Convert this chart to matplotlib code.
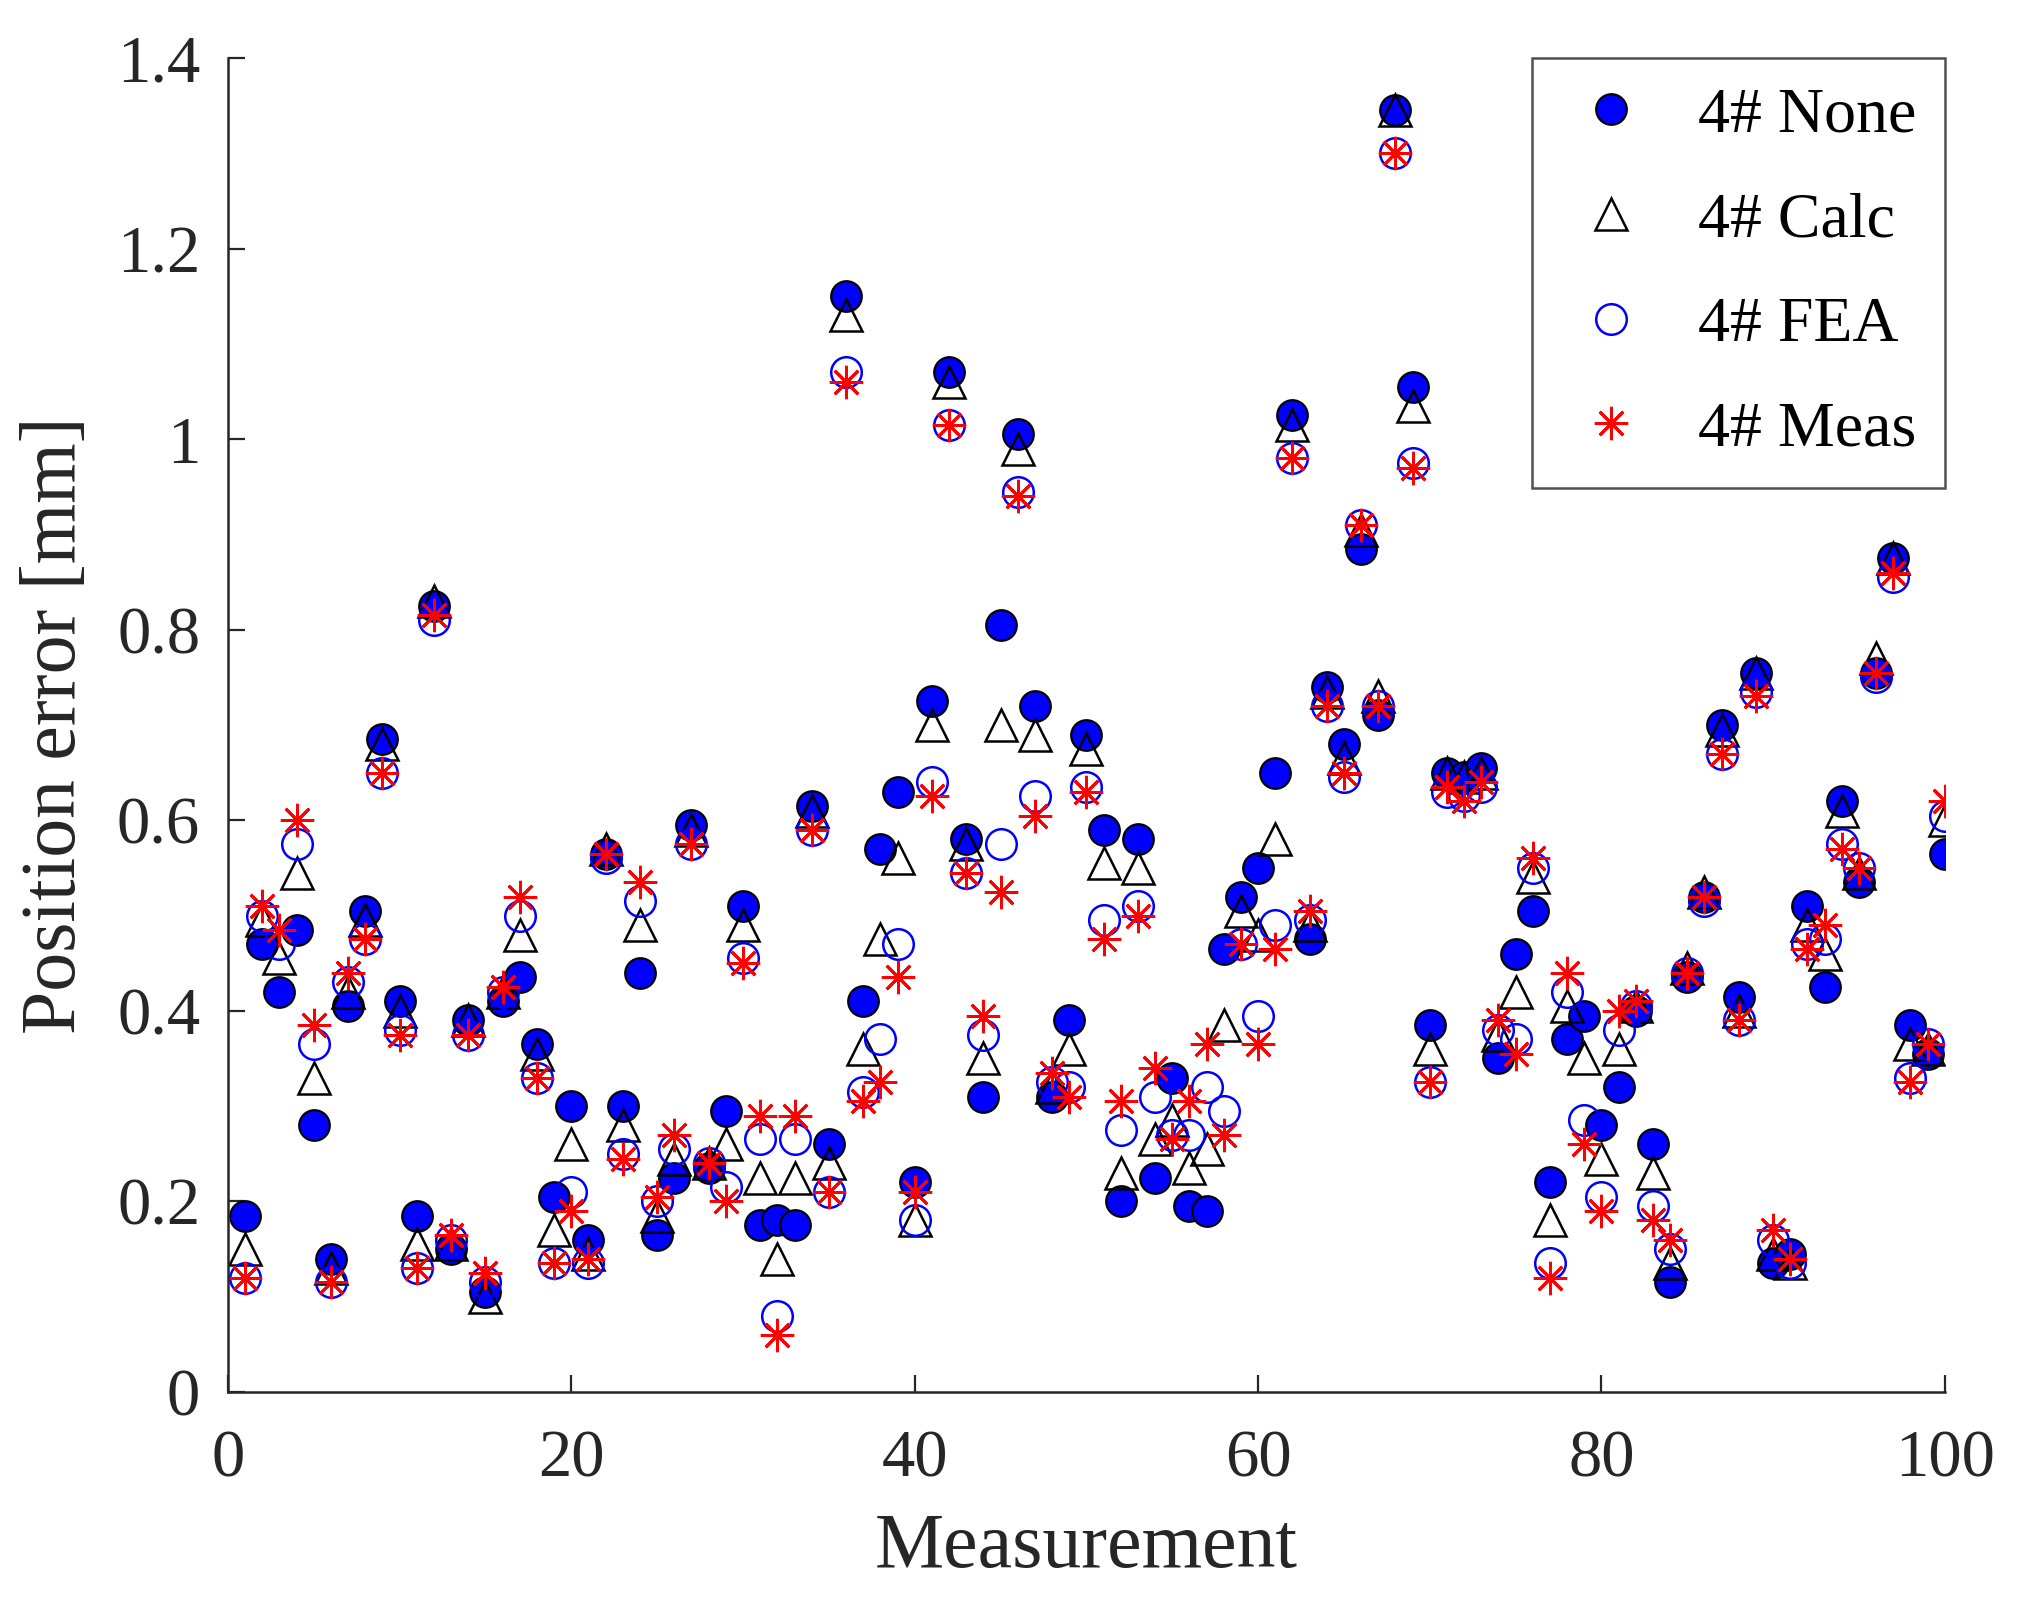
import numpy as np
import matplotlib
matplotlib.use("Agg")
import matplotlib.pyplot as plt
from matplotlib.ticker import FuncFormatter

plt.rcParams['font.family'] = ['Liberation Serif', 'DejaVu Serif']

measurement = np.arange(1, 101)

err_none = [0.185, 0.47, 0.42, 0.485, 0.28, 0.14, 0.405, 0.505, 0.685, 0.41,
            0.185, 0.825, 0.15, 0.39, 0.105, 0.41, 0.435, 0.365, 0.205, 0.30,
            0.16, 0.565, 0.30, 0.44, 0.165, 0.225, 0.595, 0.235, 0.295, 0.51,
            0.175, 0.18, 0.175, 0.615, 0.26, 1.15, 0.41, 0.57, 0.63, 0.22,
            0.725, 1.07, 0.58, 0.31, 0.805, 1.005, 0.72, 0.31, 0.39, 0.69,
            0.59, 0.20, 0.58, 0.225, 0.33, 0.195, 0.19, 0.465, 0.52, 0.55,
            0.65, 1.025, 0.475, 0.74, 0.68, 0.885, 0.71, 1.345, 1.055, 0.385,
            0.65, 0.645, 0.655, 0.35, 0.46, 0.505, 0.22, 0.37, 0.395, 0.28,
            0.32, 0.40, 0.26, 0.115, 0.435, 0.52, 0.70, 0.415, 0.755, 0.135,
            0.145, 0.51, 0.425, 0.62, 0.535, 0.755, 0.875, 0.385, 0.355, 0.565]

err_calc = [0.15, 0.495, 0.455, 0.545, 0.33, 0.13, 0.42, 0.495, 0.68, 0.40,
            0.155, 0.83, 0.155, 0.39, 0.10, 0.42, 0.48, 0.355, 0.17, 0.26,
            0.145, 0.57, 0.28, 0.49, 0.185, 0.245, 0.59, 0.24, 0.26, 0.49,
            0.225, 0.14, 0.225, 0.61, 0.24, 1.13, 0.36, 0.475, 0.56, 0.18,
            0.70, 1.06, 0.575, 0.35, 0.70, 0.99, 0.69, 0.32, 0.36, 0.675,
            0.555, 0.23, 0.55, 0.265, 0.285, 0.235, 0.255, 0.385, 0.505, 0.48,
            0.58, 1.015, 0.49, 0.735, 0.665, 0.905, 0.73, 1.345, 1.035, 0.36,
            0.65, 0.645, 0.65, 0.375, 0.42, 0.54, 0.18, 0.405, 0.35, 0.245,
            0.36, 0.405, 0.23, 0.135, 0.445, 0.525, 0.695, 0.40, 0.755, 0.145,
            0.135, 0.49, 0.46, 0.61, 0.545, 0.77, 0.875, 0.365, 0.36, 0.60]

err_fea = [0.12, 0.50, 0.47, 0.575, 0.365, 0.115, 0.43, 0.475, 0.65, 0.38,
           0.13, 0.81, 0.16, 0.375, 0.115, 0.42, 0.50, 0.33, 0.135, 0.21,
           0.135, 0.56, 0.25, 0.515, 0.20, 0.255, 0.575, 0.24, 0.215, 0.455,
           0.265, 0.08, 0.265, 0.59, 0.21, 1.07, 0.315, 0.37, 0.47, 0.18,
           0.64, 1.015, 0.545, 0.375, 0.575, 0.945, 0.625, 0.325, 0.32, 0.635,
           0.495, 0.275, 0.51, 0.31, 0.27, 0.27, 0.32, 0.295, 0.47, 0.395,
           0.49, 0.98, 0.495, 0.72, 0.645, 0.91, 0.72, 1.30, 0.975, 0.325,
           0.63, 0.625, 0.635, 0.38, 0.37, 0.55, 0.135, 0.42, 0.285, 0.205,
           0.38, 0.405, 0.195, 0.15, 0.44, 0.515, 0.67, 0.39, 0.735, 0.16,
           0.135, 0.47, 0.475, 0.575, 0.55, 0.75, 0.855, 0.33, 0.365, 0.605]

err_meas = [0.12, 0.51, 0.485, 0.60, 0.385, 0.115, 0.44, 0.475, 0.65, 0.375,
            0.13, 0.815, 0.165, 0.375, 0.125, 0.425, 0.52, 0.33, 0.135, 0.19,
            0.14, 0.565, 0.245, 0.535, 0.205, 0.27, 0.575, 0.24, 0.20, 0.45,
            0.29, 0.06, 0.29, 0.59, 0.21, 1.06, 0.305, 0.325, 0.435, 0.21,
            0.625, 1.015, 0.545, 0.395, 0.525, 0.94, 0.605, 0.335, 0.31, 0.63,
            0.475, 0.305, 0.50, 0.34, 0.265, 0.305, 0.365, 0.27, 0.47, 0.365,
            0.465, 0.98, 0.505, 0.72, 0.65, 0.91, 0.72, 1.30, 0.97, 0.325,
            0.635, 0.62, 0.64, 0.39, 0.355, 0.56, 0.12, 0.44, 0.26, 0.19,
            0.40, 0.41, 0.18, 0.16, 0.44, 0.52, 0.67, 0.39, 0.73, 0.17,
            0.14, 0.465, 0.49, 0.57, 0.55, 0.755, 0.86, 0.325, 0.365, 0.62]

fig = plt.figure(figsize=(10.15, 8.035), dpi=200)
ax = fig.add_axes([0.1123, 0.1338, 0.8457, 0.8301])

ax.plot(measurement, err_none, linestyle='none', marker='o', markersize=11,
        markerfacecolor='#0000ff', markeredgecolor='black', markeredgewidth=0.8,
        label='4# None')
ax.plot(measurement, err_calc, linestyle='none', marker='^', markersize=11.5,
        markerfacecolor='none', markeredgecolor='black', markeredgewidth=0.9,
        label='4# Calc')
ax.plot(measurement, err_fea, linestyle='none', marker='o', markersize=11,
        markerfacecolor='none', markeredgecolor='#0000ff', markeredgewidth=0.9,
        label='4# FEA')
ax.plot(measurement, err_meas, linestyle='none', marker=(8, 2, 0), markersize=12,
        markeredgecolor='#ff0000', markeredgewidth=1.0, color='#ff0000',
        label='4# Meas')

ax.set_xlim(0, 100)
ax.set_ylim(0, 1.4)
ax.set_xticks([0, 20, 40, 60, 80, 100])
ax.set_yticks(np.arange(0, 1.41, 0.2))
ax.yaxis.set_major_formatter(FuncFormatter(lambda v, p: f"{v:.1f}".rstrip('0').rstrip('.') if v else "0"))

ax.spines['top'].set_visible(False)
ax.spines['right'].set_visible(False)
for s in ['left', 'bottom']:
    ax.spines[s].set_linewidth(0.9)
    ax.spines[s].set_color('#262626')
ax.tick_params(direction='in', length=6, width=0.8, labelsize=24, colors='#262626')
ax.tick_params(axis='x', pad=13.5)
ax.tick_params(axis='y', pad=10)

ax.set_xlabel('Measurement', fontsize=28, color='#262626', labelpad=8)
ax.set_ylabel('Position error [mm]', fontsize=28, color='#262626', labelpad=9)

leg = ax.legend(loc='upper right', fontsize=23, frameon=True, fancybox=False,
                edgecolor='#262626', handletextpad=0.55, labelspacing=0.72,
                borderpad=0.45, borderaxespad=0.0, handlelength=1.6,
                bbox_to_anchor=(1.0, 1.0))
leg.get_frame().set_linewidth(0.9)

plt.savefig('out.png', dpi=200)
